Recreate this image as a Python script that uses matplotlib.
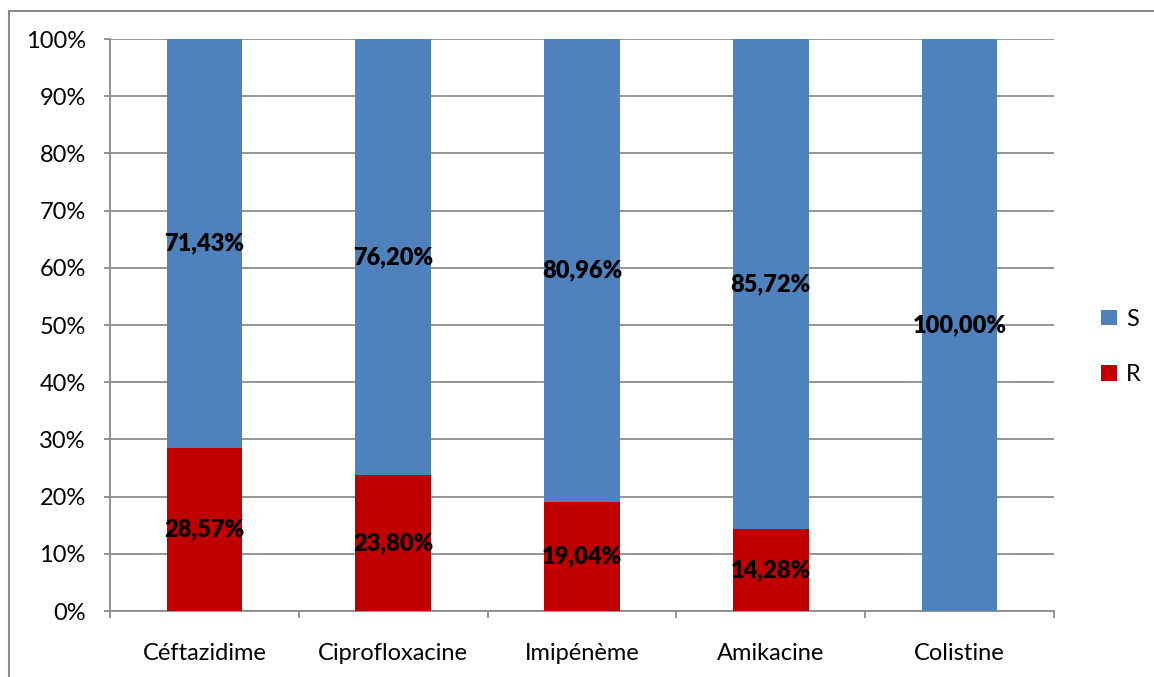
import matplotlib
matplotlib.use("Agg")
import matplotlib.pyplot as plt
from matplotlib.patches import Rectangle
from matplotlib.ticker import PercentFormatter, FixedLocator
import numpy as np

# Antibiotic susceptibility profile (percent of isolates)
antibiotics = ["Céftazidime", "Ciprofloxacine", "Imipénème", "Amikacine", "Colistine"]
resistant = [28.57, 23.80, 19.04, 14.28, 0.0]
sensitive = [71.43, 76.20, 80.96, 85.72, 100.0]
labels_r = ["28,57%", "23,80%", "19,04%", "14,28%", ""]
labels_s = ["71,43%", "76,20%", "80,96%", "85,72%", "100,00%"]

COLOR_S = "#4F81BD"
COLOR_R = "#C00000"
GRID = "#8C8C8C"
FS = 17

plt.rcParams["font.family"] = ["Lato", "DejaVu Sans"]

fig = plt.figure(figsize=(11.54, 6.77), dpi=100)
W, H = 1154, 677

# outer chart frame
fig.patches.append(Rectangle((9 / W, -0.1), 1.2, 1 - 11 / H + 0.1,
                             transform=fig.transFigure, fill=False,
                             edgecolor="#8A8A8A", linewidth=1.5))

ax = fig.add_axes([110 / W, (H - 611) / H, (1054 - 110) / W, (611 - 39) / H])

x = np.arange(len(antibiotics))
bar_w = 0.4
bars_r = ax.bar(x, resistant, bar_w, color=COLOR_R, label="R", zorder=3)
bars_s = ax.bar(x, sensitive, bar_w, bottom=resistant, color=COLOR_S, label="S", zorder=3)

for rect, txt in zip(bars_r, labels_r):
    if txt:
        ax.text(rect.get_x() + rect.get_width() / 2, rect.get_y() + rect.get_height() / 2,
                txt, ha="center", va="center", fontsize=FS, fontweight="heavy",
                color="black", zorder=5)
for rect, txt in zip(bars_s, labels_s):
    ax.text(rect.get_x() + rect.get_width() / 2, rect.get_y() + rect.get_height() / 2,
            txt, ha="center", va="center", fontsize=FS, fontweight="heavy",
            color="black", zorder=5)

ax.set_xlim(-0.5, len(antibiotics) - 0.5)
ax.set_ylim(0, 100)
ax.set_yticks(np.arange(0, 101, 10))
ax.yaxis.set_major_formatter(PercentFormatter(decimals=0))
ax.yaxis.grid(True, color=GRID, linewidth=1.3, zorder=0)
ax.set_axisbelow(True)

ax.set_xticks(x)
ax.set_xticklabels(antibiotics)
ax.xaxis.set_minor_locator(FixedLocator(np.arange(-0.5, len(antibiotics), 1.0)))
ax.tick_params(axis="x", which="major", length=0, pad=23, labelsize=FS)
ax.tick_params(axis="x", which="minor", length=5, width=1.3, color=GRID, direction="out")
ax.tick_params(axis="y", length=4.5, width=1.3, color=GRID, pad=13, labelsize=FS)

for side in ("top", "right"):
    ax.spines[side].set_visible(False)
for side in ("left", "bottom"):
    ax.spines[side].set_color(GRID)
    ax.spines[side].set_linewidth(1.3)

handles, lbls = ax.get_legend_handles_labels()
leg = fig.legend(handles[::-1], lbls[::-1], loc="center left",
                 bbox_to_anchor=(1080 / W, 1 - 347 / H), frameon=False,
                 handlelength=0.65, handleheight=0.65, handletextpad=0.4,
                 labelspacing=1.45, fontsize=FS)

fig.savefig("out.png", dpi=100)
